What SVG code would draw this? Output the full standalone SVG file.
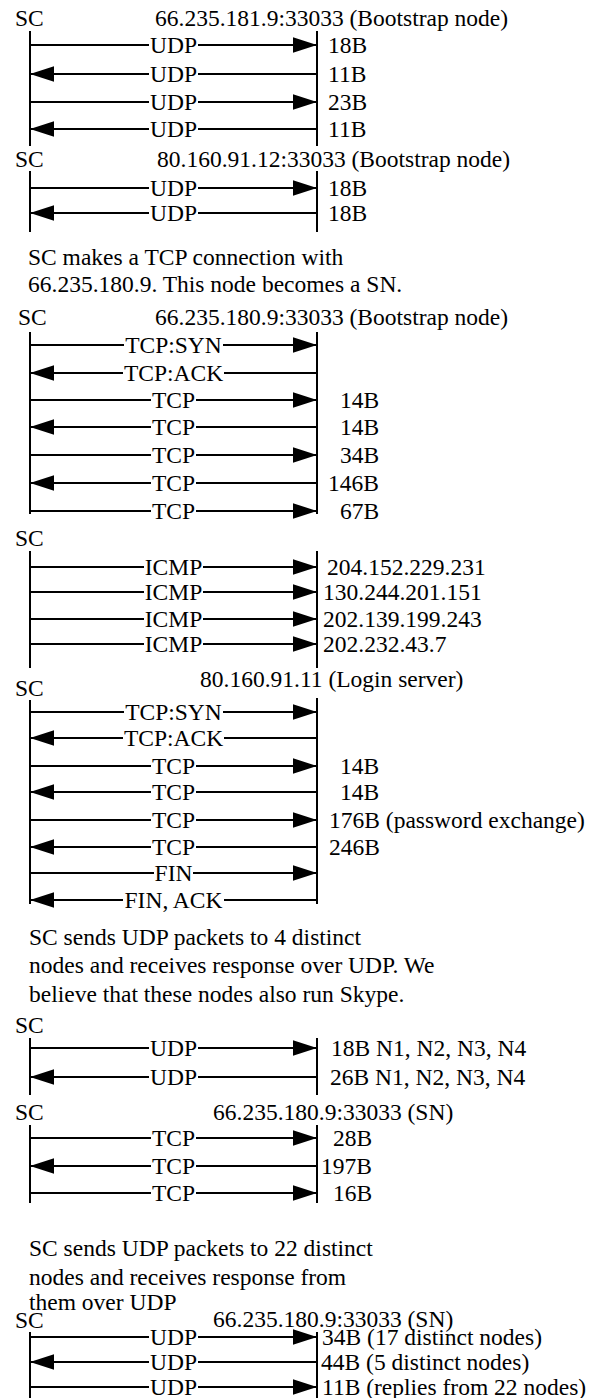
<svg xmlns="http://www.w3.org/2000/svg" width="604" height="1398" viewBox="0 0 604 1398">
<style>
.t{font-family:"Liberation Serif","Times New Roman",serif;font-size:23.5px;fill:#000}
.m{text-anchor:middle}
.life{stroke:#000;stroke-width:2;fill:none}
.msg{stroke:#000;stroke-width:2;fill:none;marker-end:url(#ah)}
</style>
<defs>
<marker id="ah" markerUnits="userSpaceOnUse" viewBox="0 0 24 16" markerWidth="24" markerHeight="16" refX="24" refY="8" orient="auto"><path d="M0,0.3 L24,8 L0,15.7 z" fill="#000"/></marker>
</defs>
<rect width="604" height="1398" fill="#fff"/>

<g id="s1">
<text class="t" x="15" y="26">SC</text>
<text class="t" x="155" y="26">66.235.181.9:33033 (Bootstrap node)</text>
<path class="life" d="M30 31V146M317 31V146"/>
</g>
<g id="s2">
<text class="t" x="15" y="167">SC</text>
<text class="t" x="157" y="167">80.160.91.12:33033 (Bootstrap node)</text>
<path class="life" d="M30 171V232M317 171V232"/>
</g>
<g id="note1">
<text class="t" x="28" y="265">SC makes a TCP connection with</text>
<text class="t" x="28" y="292">66.235.180.9. This node becomes a SN.</text>
</g>
<g id="s3">
<text class="t" x="18" y="325">SC</text>
<text class="t" x="155" y="325">66.235.180.9:33033 (Bootstrap node)</text>
<path class="life" d="M30 332V514M317 332V514"/>
</g>
<g id="s4">
<text class="t" x="15" y="546">SC</text>
<path class="life" d="M30 551V668M317 551V668"/>
</g>
<g id="s5">
<text class="t" x="15" y="696">SC</text>
<text class="t" x="200" y="687">80.160.91.11 (Login server)</text>
<path class="life" d="M30 700V904M317 698V904"/>
</g>
<g id="note2">
<text class="t" x="29" y="945">SC sends UDP packets to 4 distinct</text>
<text class="t" x="29" y="973">nodes and receives response over UDP. We</text>
<text class="t" x="29" y="1002">believe that these nodes also run Skype.</text>
</g>
<g id="s6">
<text class="t" x="15" y="1033">SC</text>
<path class="life" d="M30 1038V1095M317 1038V1095"/>
</g>
<g id="s7">
<text class="t" x="15" y="1120">SC</text>
<text class="t" x="213" y="1120">66.235.180.9:33033 (SN)</text>
<path class="life" d="M30 1125V1203M317 1125V1203"/>
</g>
<g id="note3">
<text class="t" x="29" y="1256">SC sends UDP packets to 22 distinct</text>
<text class="t" x="29" y="1285">nodes and receives response from</text>
<text class="t" x="29" y="1310">them over UDP</text>
</g>
<g id="s8">
<text class="t" x="15" y="1328">SC</text>
<text class="t" x="213" y="1327">66.235.180.9:33033 (SN)</text>
<path class="life" d="M30 1332V1398M317 1332V1398"/>
</g>

<g id="connectors">
<path class="msg" d="M30 45H149M198 45H317"/><text class="t m" x="173.5" y="53">UDP</text><text class="t" x="328" y="53">18B</text>
<path class="msg" d="M317 74H198M149 74H30"/><text class="t m" x="173.5" y="82">UDP</text><text class="t" x="328" y="82">11B</text>
<path class="msg" d="M30 102H149M198 102H317"/><text class="t m" x="173.5" y="110">UDP</text><text class="t" x="328" y="110">23B</text>
<path class="msg" d="M317 129H198M149 129H30"/><text class="t m" x="173.5" y="137">UDP</text><text class="t" x="328" y="137">11B</text>
<path class="msg" d="M30 188H149M198 188H317"/><text class="t m" x="173.5" y="196">UDP</text><text class="t" x="328" y="196">18B</text>
<path class="msg" d="M317 213H198M149 213H30"/><text class="t m" x="173.5" y="221">UDP</text><text class="t" x="328" y="221">18B</text>
<path class="msg" d="M30 345H124M223 345H317"/><text class="t m" x="173.5" y="353">TCP:SYN</text>
<path class="msg" d="M317 373H224M123 373H30"/><text class="t m" x="173.5" y="381">TCP:ACK</text>
<path class="msg" d="M30 400H151M196 400H317"/><text class="t m" x="173.5" y="408">TCP</text><text class="t" x="340" y="408">14B</text>
<path class="msg" d="M317 427H196M151 427H30"/><text class="t m" x="173.5" y="435">TCP</text><text class="t" x="340" y="435">14B</text>
<path class="msg" d="M30 455H151M196 455H317"/><text class="t m" x="173.5" y="463">TCP</text><text class="t" x="340" y="463">34B</text>
<path class="msg" d="M317 483H196M151 483H30"/><text class="t m" x="173.5" y="491">TCP</text><text class="t" x="328" y="491">146B</text>
<path class="msg" d="M30 511H151M196 511H317"/><text class="t m" x="173.5" y="519">TCP</text><text class="t" x="340" y="519">67B</text>
<path class="msg" d="M30 567H144M203 567H317"/><text class="t m" x="173.5" y="575">ICMP</text><text class="t" x="327" y="575">204.152.229.231</text>
<path class="msg" d="M30 592H144M203 592H317"/><text class="t m" x="173.5" y="600">ICMP</text><text class="t" x="323" y="600">130.244.201.151</text>
<path class="msg" d="M30 619H144M203 619H317"/><text class="t m" x="173.5" y="627">ICMP</text><text class="t" x="323" y="627">202.139.199.243</text>
<path class="msg" d="M30 644H144M203 644H317"/><text class="t m" x="173.5" y="652">ICMP</text><text class="t" x="323" y="652">202.232.43.7</text>
<path class="msg" d="M30 712H124M223 712H317"/><text class="t m" x="173.5" y="720">TCP:SYN</text>
<path class="msg" d="M317 738H224M123 738H30"/><text class="t m" x="173.5" y="746">TCP:ACK</text>
<path class="msg" d="M30 766H151M196 766H317"/><text class="t m" x="173.5" y="774">TCP</text><text class="t" x="340" y="774">14B</text>
<path class="msg" d="M317 792H196M151 792H30"/><text class="t m" x="173.5" y="800">TCP</text><text class="t" x="340" y="800">14B</text>
<path class="msg" d="M30 820H151M196 820H317"/><text class="t m" x="173.5" y="828">TCP</text><text class="t" x="329" y="828">176B (password exchange)</text>
<path class="msg" d="M317 847H196M151 847H30"/><text class="t m" x="173.5" y="855">TCP</text><text class="t" x="329" y="855">246B</text>
<path class="msg" d="M30 873H154M193 873H317"/><text class="t m" x="173.5" y="881">FIN</text>
<path class="msg" d="M317 900H224M123 900H30"/><text class="t m" x="173.5" y="908">FIN, ACK</text>
<path class="msg" d="M30 1048H149M198 1048H317"/><text class="t m" x="173.5" y="1056">UDP</text><text class="t" x="331" y="1056">18B N1, N2, N3, N4</text>
<path class="msg" d="M317 1077H198M149 1077H30"/><text class="t m" x="173.5" y="1085">UDP</text><text class="t" x="330" y="1085">26B N1, N2, N3, N4</text>
<path class="msg" d="M30 1138H151M196 1138H317"/><text class="t m" x="173.5" y="1146">TCP</text><text class="t" x="333" y="1146">28B</text>
<path class="msg" d="M317 1166H196M151 1166H30"/><text class="t m" x="173.5" y="1174">TCP</text><text class="t" x="321" y="1174">197B</text>
<path class="msg" d="M30 1193H151M196 1193H317"/><text class="t m" x="173.5" y="1201">TCP</text><text class="t" x="333" y="1201">16B</text>
<path class="msg" d="M30 1337H149M198 1337H317"/><text class="t m" x="173.5" y="1345">UDP</text><text class="t" x="322" y="1345">34B (17 distinct nodes)</text>
<path class="msg" d="M317 1362H198M149 1362H30"/><text class="t m" x="173.5" y="1370">UDP</text><text class="t" x="321" y="1370">44B (5 distinct nodes)</text>
<path class="msg" d="M30 1387H149M198 1387H317"/><text class="t m" x="173.5" y="1395">UDP</text><text class="t" x="322" y="1395">11B (replies from 22 nodes)</text>
</g>
</svg>
